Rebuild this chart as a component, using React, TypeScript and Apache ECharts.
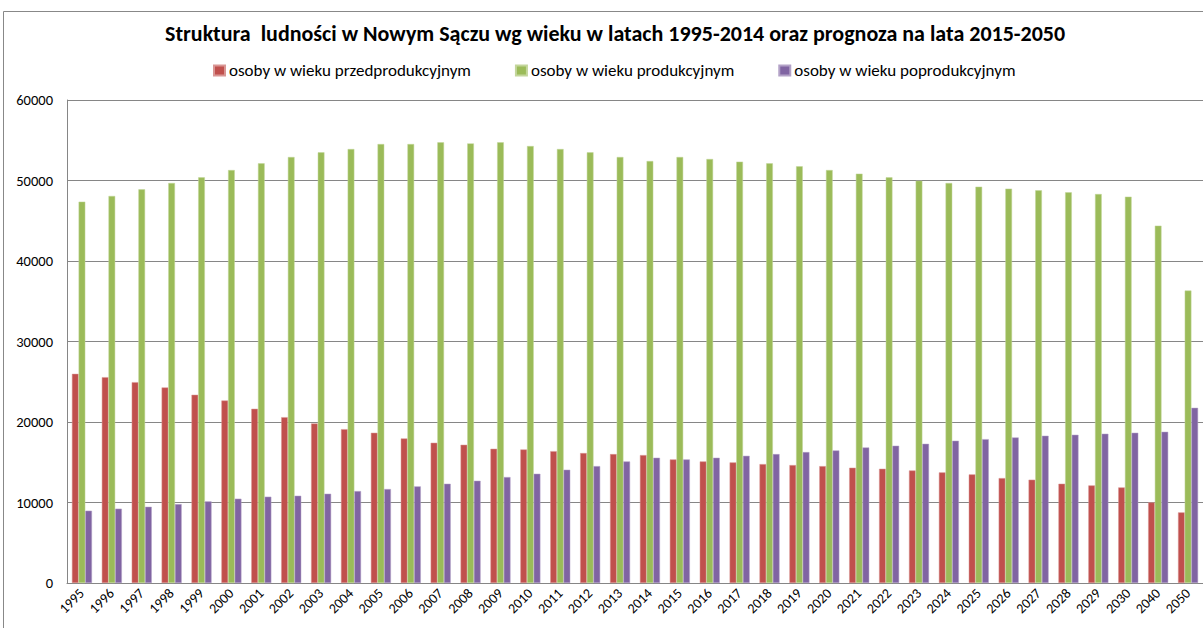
import React, { useEffect, useRef } from "react";
import * as echarts from "echarts";

const categories = [
  "1995","1996","1997","1998","1999","2000","2001","2002","2003","2004","2005","2006","2007","2008","2009","2010","2011","2012","2013","2014","2015","2016","2017","2018","2019","2020","2021","2022","2023","2024","2025","2026","2027","2028","2029","2030","2040","2050",
];

const przedprodukcyjny = [
  25980, 25570, 24950, 24290, 23380, 22670, 21640, 20600, 19820, 19110, 18660,
  17960, 17420, 17170, 16670, 16590, 16380, 16140, 16010, 15890, 15350, 15100,
  14980, 14770, 14650, 14520, 14320, 14190, 13980, 13740, 13490, 13030, 12830,
  12330, 12120, 11870, 10010, 8770,
];

const produkcyjny = [
  47370, 48080, 48900, 49690, 50390, 51300, 52130, 52920, 53500, 53910, 54530,
  54530, 54740, 54610, 54740, 54280, 53910, 53500, 52920, 52420, 52920, 52670,
  52340, 52130, 51760, 51300, 50850, 50390, 49980, 49690, 49230, 48990, 48780,
  48530, 48320, 47990, 44390, 36330,
];

const poprodukcyjny = [
  8980, 9230, 9470, 9800, 10140, 10470, 10720, 10840, 11090, 11420, 11670,
  12000, 12330, 12700, 13160, 13570, 14070, 14520, 15100, 15560, 15350, 15560,
  15800, 16010, 16260, 16470, 16840, 17050, 17290, 17670, 17870, 18080, 18290,
  18410, 18540, 18660, 18780, 21760,
];

const seriesNames = [
  "osoby w wieku przedprodukcyjnym",
  "osoby w wieku produkcyjnym",
  "osoby w wieku poprodukcyjnym",
];

const title =
  "Struktura  ludności w Nowym Sączu wg wieku w latach 1995-2014 oraz prognoza na lata 2015-2050";

const FONT = "Carlito, 'Liberation Sans Narrow', 'Open Sans', sans-serif";

export default function App() {
  const ref = useRef<HTMLDivElement>(null);

  useEffect(() => {
    if (!ref.current) return;
    const chart = echarts.init(ref.current, undefined, { renderer: "svg" });
    const colors = ["#C0504D", "#9BBB59", "#8064A2"];
    const borders = ["#D99694", "#C3D69B", "#B3A2C7"];
    const data = [przedprodukcyjny, produkcyjny, poprodukcyjny];
    chart.setOption({
      animation: false,
      backgroundColor: "#ffffff",
      textStyle: { fontFamily: FONT },
      title: {
        text: title,
        left: 160,
        top: 17,
        textStyle: {
          fontFamily: FONT,
          fontSize: 22,
          fontWeight: "bold",
          color: "#000000",
        },
      },
      legend: {
        top: 57,
        left: 208,
        itemWidth: 11,
        itemHeight: 10,
        itemGap: 44,
        icon: "rect",
        textStyle: { fontFamily: FONT, fontSize: 17, color: "#000000", padding: [0, 0, 0, -1] },
        data: seriesNames,
      },
      graphic: [
        {
          type: "rect",
          shape: { x: 3.5, y: 11.5, width: 1300, height: 700 },
          style: { fill: "none", stroke: "#888888", lineWidth: 1 },
          silent: true,
        },
      ],
      grid: { left: 67, right: 0, top: 100, bottom: 45, containLabel: false },
      xAxis: {
        type: "category",
        data: categories,
        axisLine: { lineStyle: { color: "#868686" } },
        axisTick: { show: false },
        axisLabel: {
          rotate: 45,
          interval: 0,
          fontFamily: FONT,
          fontSize: 14,
          color: "#000000",
          margin: 8,
        },
      },
      yAxis: {
        type: "value",
        min: 0,
        max: 60000,
        interval: 10000,
        axisLine: { show: true, lineStyle: { color: "#868686" } },
        axisTick: { show: false },
        axisLabel: {
          fontFamily: FONT,
          fontSize: 14.5,
          color: "#000000",
          margin: 14,
          formatter: (v: number) => String(v),
        },
        splitLine: { lineStyle: { color: "#868686" } },
      },
      series: seriesNames.map((name, i) => ({
        name,
        type: "bar",
        data: data[i],
        barGap: "0%",
        barCategoryGap: "33%",
        itemStyle: { color: colors[i], borderColor: borders[i], borderWidth: 0.5 },
      })),
    });
    return () => chart.dispose();
  }, []);

  return (
    <div
      ref={ref}
      style={{ position: "fixed", left: 0, top: 0, width: 1203, height: 628 }}
    />
  );
}
